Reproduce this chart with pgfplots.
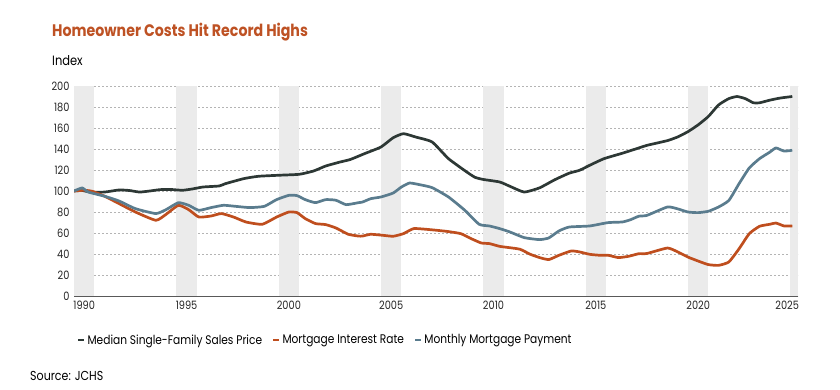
\documentclass[border=0pt]{standalone}
\usepackage{fontspec}
\setmainfont{Poppins}[FakeStretch=0.85]
\usepackage{pgfplots}
\pgfplotsset{compat=1.18}
\definecolor{cDark}{HTML}{2D3835}
\definecolor{cOrange}{HTML}{BF4E1E}
\definecolor{cBlue}{HTML}{5A7C8E}
\definecolor{cTitle}{HTML}{BE5224}
\definecolor{cBand}{HTML}{EBEBEB}
\definecolor{cGrid}{HTML}{B4B4B4}
\begin{document}
\begin{tikzpicture}[x=1pt,y=1pt]
\useasboundingbox (0,0) rectangle (840,-389);
\node[anchor=base west,text=cTitle,font=\fontsize{16.7}{19}\selectfont\bfseries,inner sep=0] at (52,-36) {Homeowner Costs Hit Record Highs};
\node[anchor=base west,font=\fontsize{13.5}{15}\selectfont,inner sep=0] at (52,-65) {Index};
\node[anchor=base west,font=\fontsize{13}{15}\selectfont,inner sep=0] at (30,-380) {Source: JCHS};
\begin{axis}[
  at={(74pt,-296pt)}, anchor=south west,
  scale only axis, width=724pt, height=210pt,
  xmin=1990, xmax=2025.38, ymin=0, ymax=200,
  ytick={0,20,...,200},
  xtick={1990.5,1995.5,2000.5,2005.5,2010.5,2015.5,2020.5,2024.85},
  xticklabels={1990,1995,2000,2005,2010,2015,2020,2025},
  major tick length=0pt,
  axis x line*=bottom, axis y line*=left,
  x axis line style={draw=black!65, line width=1pt, -},
  y axis line style={draw=none},
  ymajorgrids, grid style={cGrid, line width=0.8pt, dash pattern=on 1.6pt off 2.4pt},
  tick label style={font=\fontsize{11.5}{13}\selectfont, text=black!85},
  yticklabel style={xshift=-1pt},
  xticklabel style={yshift=-1pt},
  /pgf/number format/assume math mode=true,
  legend columns=3,
  legend style={at={(axis description cs:0,-0.21)}, anchor=west, draw=none, fill=none,
    font=\fontsize{12.5}{14}\selectfont, /tikz/every even column/.append style={column sep=8pt}},
  legend cell align=left,
  legend image code/.code={\draw[line width=2.4pt] (0pt,0pt) -- (6pt,0pt);},
]
\pgfplotsset{band/.style={fill=cBand, draw=none, forget plot}}
\addplot[band] coordinates {(1990,0)(1990,200)(1991,200)(1991,0)} -- cycle;
\addplot[band] coordinates {(1995,0)(1995,200)(1996,200)(1996,0)} -- cycle;
\addplot[band] coordinates {(2000,0)(2000,200)(2001,200)(2001,0)} -- cycle;
\addplot[band] coordinates {(2005,0)(2005,200)(2006,200)(2006,0)} -- cycle;
\addplot[band] coordinates {(2010,0)(2010,200)(2011,200)(2011,0)} -- cycle;
\addplot[band] coordinates {(2015,0)(2015,200)(2016,200)(2016,0)} -- cycle;
\addplot[band] coordinates {(2020,0)(2020,200)(2021,200)(2021,0)} -- cycle;
\addplot[band] coordinates {(2025,0)(2025,200)(2025.38,200)(2025.38,0)} -- cycle;

\addplot[cDark, line width=2.7pt, line join=round, smooth, tension=0.3] coordinates {
(1990.0,100)(1990.4,100.5)(1990.8,99)(1991.5,99)(1992.2,101)(1992.7,100.5)(1993.2,99)(1993.7,100)(1994.2,101.3)(1994.7,101.5)(1995.3,100.7)(1995.8,102)(1996.3,103.8)(1997.1,104.8)(1997.4,107)(1998.3,111.8)(1999.0,114)(2000.0,115)(2001.0,115.9)(2001.7,119)(2002.3,123.8)(2003.0,127.6)(2003.5,130)(2004.2,135.6)(2005.0,141.9)(2005.6,150.8)(2006.1,154.6)(2006.7,151.4)(2007.5,146.7)(2008.3,130.8)(2009.2,118)(2009.6,113)(2010.0,111)(2010.8,108.6)(2011.3,104.5)(2012.0,99)(2012.75,103)(2013.5,110.8)(2014.2,117)(2014.7,119.7)(2015.2,124.5)(2015.9,130.8)(2016.8,136)(2017.6,141)(2018,143.5)(2019,148)(2019.5,151.5)(2020,156.5)(2020.5,163)(2021,171)(2021.5,182)(2022,188)(2022.4,190)(2022.8,188)(2023.2,184)(2023.5,184)(2024,186.5)(2024.5,188.5)(2025.1,190)};
\addlegendentry{Median Single-Family Sales Price}

\addplot[cOrange, line width=2.7pt, line join=round, smooth, tension=0.3] coordinates {
(1990.0,100)(1990.5,100.7)(1990.9,99.7)(1991.5,95)(1992.2,88)(1993.0,80)(1994.0,72.1)(1994.5,77.8)(1995.1,86.4)(1995.6,82.3)(1996.1,75.2)(1996.7,76.2)(1997.2,78.5)(1997.8,75.2)(1998.4,70.5)(1999.2,68.3)(1999.9,75.2)(2000.5,80)(2000.9,79.4)(2001.3,73.7)(2001.8,69)(2002.3,68)(2002.8,64.8)(2003.4,58.8)(2003.9,57.1)(2004.1,57.1)(2004.5,58.8)(2005.1,57.8)(2005.6,56.9)(2006.1,59.4)(2006.6,64.2)(2007.4,63.2)(2008.2,61.6)(2008.9,59.4)(2009.4,54.7)(2009.9,50.5)(2010.3,49.9)(2010.8,47.3)(2011.3,46)(2011.8,44.5)(2012.3,39.7)(2012.75,36.6)(2013.2,34.7)(2013.7,38.8)(2014.3,42.9)(2014.7,42)(2015.2,39.7)(2015.7,38.8)(2016.1,38.8)(2016.6,36.6)(2017.1,37.8)(2017.6,40.3)(2018,40.5)(2019,45.7)(2019.5,42)(2020,37.1)(2020.5,33.3)(2021,29.9)(2021.5,29.2)(2022,32.4)(2022.5,45)(2023,59.4)(2023.5,66.4)(2024,68.3)(2024.3,69.5)(2024.7,66.7)(2025.1,66.7)};
\addlegendentry{Mortgage Interest Rate}

\addplot[cBlue, line width=2.7pt, line join=round, smooth, tension=0.3] coordinates {
(1990.0,100)(1990.4,102.9)(1990.7,99)(1991.5,95)(1992.2,90.5)(1993.0,83.2)(1994.0,78.5)(1994.5,82.3)(1995.1,88.9)(1995.6,86.4)(1996.1,81.6)(1996.7,84.2)(1997.3,86.4)(1997.9,85.4)(1998.6,84.2)(1999.3,85.4)(1999.9,91.8)(2000.5,95.9)(2000.9,95.6)(2001.3,91.8)(2001.8,88.9)(2002.3,91.8)(2002.8,91.2)(2003.3,87)(2003.9,88.9)(2004.1,89.5)(2004.5,92.7)(2005.0,94.3)(2005.6,98.1)(2006.0,103.8)(2006.4,107.6)(2006.9,106)(2007.5,103.2)(2008.3,94.3)(2009.1,81.6)(2009.8,68.3)(2010.3,66.7)(2010.8,64.2)(2011.3,61)(2012.0,55.6)(2012.75,53.7)(2013.2,55.3)(2013.7,62)(2014.2,65.7)(2015.2,66.7)(2016.1,69.9)(2016.8,70.5)(2017.2,72.7)(2017.6,76)(2018,76.8)(2019,84.8)(2019.5,83)(2020,80)(2020.5,79.4)(2021,80.7)(2021.5,84.8)(2022,91)(2022.5,107)(2023,122)(2023.5,130.8)(2024,137)(2024.3,141)(2024.7,138)(2025.1,138.8)};
\addlegendentry{Monthly Mortgage Payment}
\end{axis}
\end{tikzpicture}
\end{document}
